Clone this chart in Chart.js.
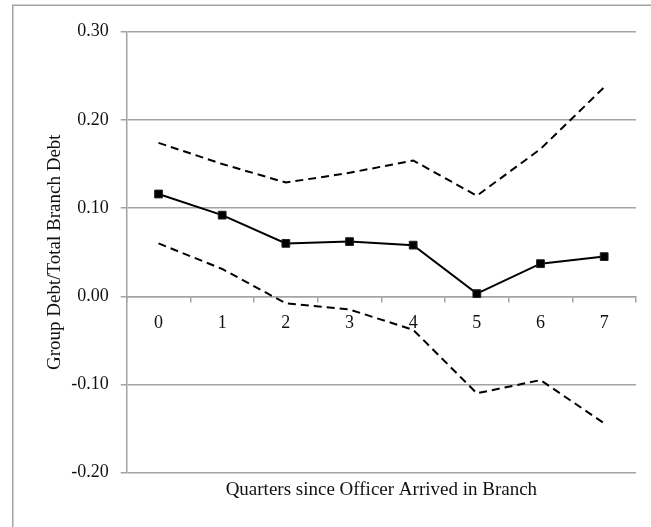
<!DOCTYPE html>
<html>
<head>
<meta charset="utf-8">
<script src="https://cdn.jsdelivr.net/npm/chart.js@4/dist/chart.umd.min.js"></script>
<style>
  html, body { margin: 0; padding: 0; background: #ffffff; }
  #wrap { width: 651px; height: 527px; }
</style>
</head>
<body>
<div id="wrap"><canvas id="c" width="651" height="527"></canvas></div>
<script>
// ---- data ----
const categories = ['0', '1', '2', '3', '4', '5', '6', '7'];
const estimate   = [0.116, 0.092, 0.060, 0.062, 0.058, 0.003, 0.037, 0.045];
const upperBand  = [0.174, 0.150, 0.129, 0.140, 0.154, 0.114, 0.167, 0.237];
const lowerBand  = [0.060, 0.031, -0.008, -0.015, -0.038, -0.110, -0.095, -0.144];
const yTickValues = [-0.2, -0.1, 0.0, 0.1, 0.2, 0.3];
const xTitle = 'Quarters since Officer Arrived in Branch';
const yTitle = 'Group Debt/Total Branch Debt';

const GRID = '#a3a3a3';
const FONT = 'Liberation Serif, Times New Roman, serif';
const TEXT = '#111111';

const frame = {
  id: 'frame',
  beforeDraw(chart) {
    const ctx = chart.ctx;
    ctx.save();
    ctx.fillStyle = '#ffffff';
    ctx.fillRect(0, 0, chart.width, chart.height);
    ctx.strokeStyle = GRID;
    ctx.lineWidth = 1.5;
    ctx.strokeRect(12.75, 5.25, 800, 800);
    ctx.restore();
  }
};

new Chart(document.getElementById('c'), {
  type: 'line',
  data: {
    labels: categories,
    datasets: [
      {
        label: 'Upper',
        data: upperBand,
        borderColor: '#000',
        borderWidth: 2,
        borderDash: [8, 5],
        pointRadius: 0,
        fill: false,
        tension: 0
      },
      {
        label: 'Lower',
        data: lowerBand,
        borderColor: '#000',
        borderWidth: 2,
        borderDash: [8, 5],
        pointRadius: 0,
        fill: false,
        tension: 0
      },
      {
        label: 'Estimate',
        data: estimate,
        borderColor: '#000',
        backgroundColor: '#000',
        borderWidth: 2,
        pointStyle: 'rect',
        pointRadius: 5.5,
        pointBorderWidth: 1,
        pointBorderColor: '#222',
        pointBackgroundColor: '#000',
        fill: false,
        tension: 0
      }
    ]
  },
  options: {
    responsive: false,
    animation: false,
    events: [],
    layout: { padding: { left: 0, top: 31.7, right: 15, bottom: 0 } },
    plugins: { legend: { display: false }, tooltip: { enabled: false } },
    scales: {
      x: {
        type: 'category',
        position: { y: 0 },
        offset: true,
        grid: {
          offset: true,
          drawOnChartArea: false,
          drawTicks: true,
          tickLength: 5,
          color: GRID,
          lineWidth: 1.5
        },
        border: { display: true, color: GRID, width: 1.5 },
        ticks: {
          padding: 11,
          maxRotation: 0,
          color: TEXT,
          font: { family: FONT, size: 18 }
        }
      },
      x2: {
        type: 'category',
        labels: categories,
        position: 'bottom',
        grid: { display: false, drawTicks: false },
        border: { display: false },
        ticks: { display: false },
        title: {
          display: true,
          text: xTitle,
          color: TEXT,
          font: { family: FONT, size: 19 },
          padding: { top: 0, bottom: 26 }
        },
        afterFit(s) { s.height = 527 - 472.7; }
      },
      y: {
        type: 'linear',
        position: 'left',
        min: -0.2,
        max: 0.3,
        afterBuildTicks(s) { s.ticks = yTickValues.map(v => ({ value: v })); },
        grid: {
          color: GRID,
          lineWidth: 1.5,
          drawTicks: true,
          tickLength: 6
        },
        border: { display: true, color: GRID, width: 1.5 },
        ticks: {
          padding: 12,
          color: TEXT,
          font: { family: FONT, size: 18 },
          callback: (v) => Number(v).toFixed(2)
        },
        title: {
          display: true,
          text: yTitle,
          color: TEXT,
          font: { family: FONT, size: 19 },
          padding: { top: 44, bottom: 0 }
        },
        afterFit(s) { s.width = 126.7; }
      }
    }
  },
  plugins: [frame]
});
</script>
</body>
</html>
